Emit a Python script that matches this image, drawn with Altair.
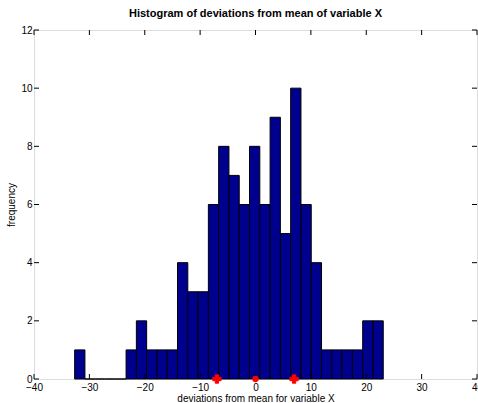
import altair as alt
import numpy as np
import pandas as pd

# histogram: 30 bins spanning the data range
bin_lo = -32.66
bin_hi = 23.07
counts = [1, 0, 0, 0, 0, 1, 2, 1, 1, 1, 4, 3, 3, 6, 8, 7, 6, 8, 6, 9, 5, 10, 6, 4, 1, 1, 1, 1, 2, 2]

# markers: mean - std, mean, mean + std
marker_x = [-6.97, 0.0, 6.97]
marker_shape = ["cross", "circle", "cross"]

x_ticks = [-40, -30, -20, -10, 0, 10, 20, 30, 40]
y_ticks = [0, 2, 4, 6, 8, 10, 12]

edges = np.linspace(bin_lo, bin_hi, len(counts) + 1)
bars_df = pd.DataFrame({"x0": edges[:-1], "x1": edges[1:], "n": counts, "b": [0] * len(counts)})
marks_df = pd.DataFrame({"x": marker_x, "y": [0] * 3, "shape": marker_shape})
xt_df = pd.DataFrame({"v": x_ticks})
yt_df = pd.DataFrame({"v": y_ticks})

W, H = 443, 349
FONT = "Liberation Sans"

xscale = alt.Scale(domain=[-40, 40], nice=False, zero=False)
yscale = alt.Scale(domain=[0, 12], nice=False, zero=False)

xaxis = alt.Axis(values=x_ticks, ticks=False, tickSize=0, domain=False, grid=False,
                 labelPadding=3, labelFlush=False, format="d",
                 labelFont=FONT, labelFontSize=10, labelColor="black",
                 title="deviations from mean for variable X", titlePadding=1,
                 titleFont=FONT, titleFontSize=10, titleFontWeight="normal", titleColor="black")
yaxis = alt.Axis(values=y_ticks, ticks=False, tickSize=0, domain=False, grid=False,
                 labelPadding=2, labelFlush=False, format="d",
                 labelFont=FONT, labelFontSize=10, labelColor="black",
                 title="frequency", titlePadding=4,
                 titleFont=FONT, titleFontSize=10, titleFontWeight="normal", titleColor="black")

bars = alt.Chart(bars_df).mark_bar(
    color="#00008F", stroke="black", strokeWidth=1, opacity=1
).encode(
    x=alt.X("x0:Q", scale=xscale, axis=xaxis),
    x2="x1:Q",
    y=alt.Y("n:Q", scale=yscale, axis=yaxis),
    y2="b:Q",
)

crosses = alt.Chart(marks_df).transform_filter(alt.datum.shape == "cross").mark_point(
    shape="cross", filled=True, color="#FF0000", stroke="#FF0000", strokeWidth=1, size=70, opacity=1, clip=False
).encode(x=alt.X("x:Q", scale=xscale, axis=xaxis), y=alt.Y("y:Q", scale=yscale, axis=yaxis))

dots = alt.Chart(marks_df).transform_filter(alt.datum.shape == "circle").mark_point(
    shape="circle", filled=True, color="#FF0000", size=40, opacity=1, clip=False
).encode(x=alt.X("x:Q", scale=xscale, axis=xaxis), y=alt.Y("y:Q", scale=yscale, axis=yaxis))

tick_b = alt.Chart(xt_df).mark_rule(color="black", strokeWidth=1).encode(
    x=alt.X("v:Q", scale=xscale, axis=xaxis), y=alt.value(H), y2=alt.value(H - 5))
tick_t = alt.Chart(xt_df).mark_rule(color="black", strokeWidth=1).encode(
    x=alt.X("v:Q", scale=xscale, axis=xaxis), y=alt.value(0), y2=alt.value(5))
tick_l = alt.Chart(yt_df).mark_rule(color="black", strokeWidth=1).encode(
    y=alt.Y("v:Q", scale=yscale, axis=yaxis), x=alt.value(0), x2=alt.value(5))
tick_r = alt.Chart(yt_df).mark_rule(color="black", strokeWidth=1).encode(
    y=alt.Y("v:Q", scale=yscale, axis=yaxis), x=alt.value(W), x2=alt.value(W - 5))

chart = alt.layer(bars, tick_b, tick_t, tick_l, tick_r, crosses, dots).properties(
    width=W, height=H,
    title=alt.Title("Histogram of deviations from mean of variable X",
                    font=FONT, fontSize=11, fontWeight="bold", color="black",
                    anchor="middle", offset=6),
    autosize=alt.AutoSizeParams(type="none"),
    padding={"left": 34, "top": 30, "right": 1, "bottom": 24},
).configure_view(
    stroke="black", strokeWidth=1
).configure(background="white")

chart.save("out.html", embed_options={"renderer": "svg", "actions": False})
